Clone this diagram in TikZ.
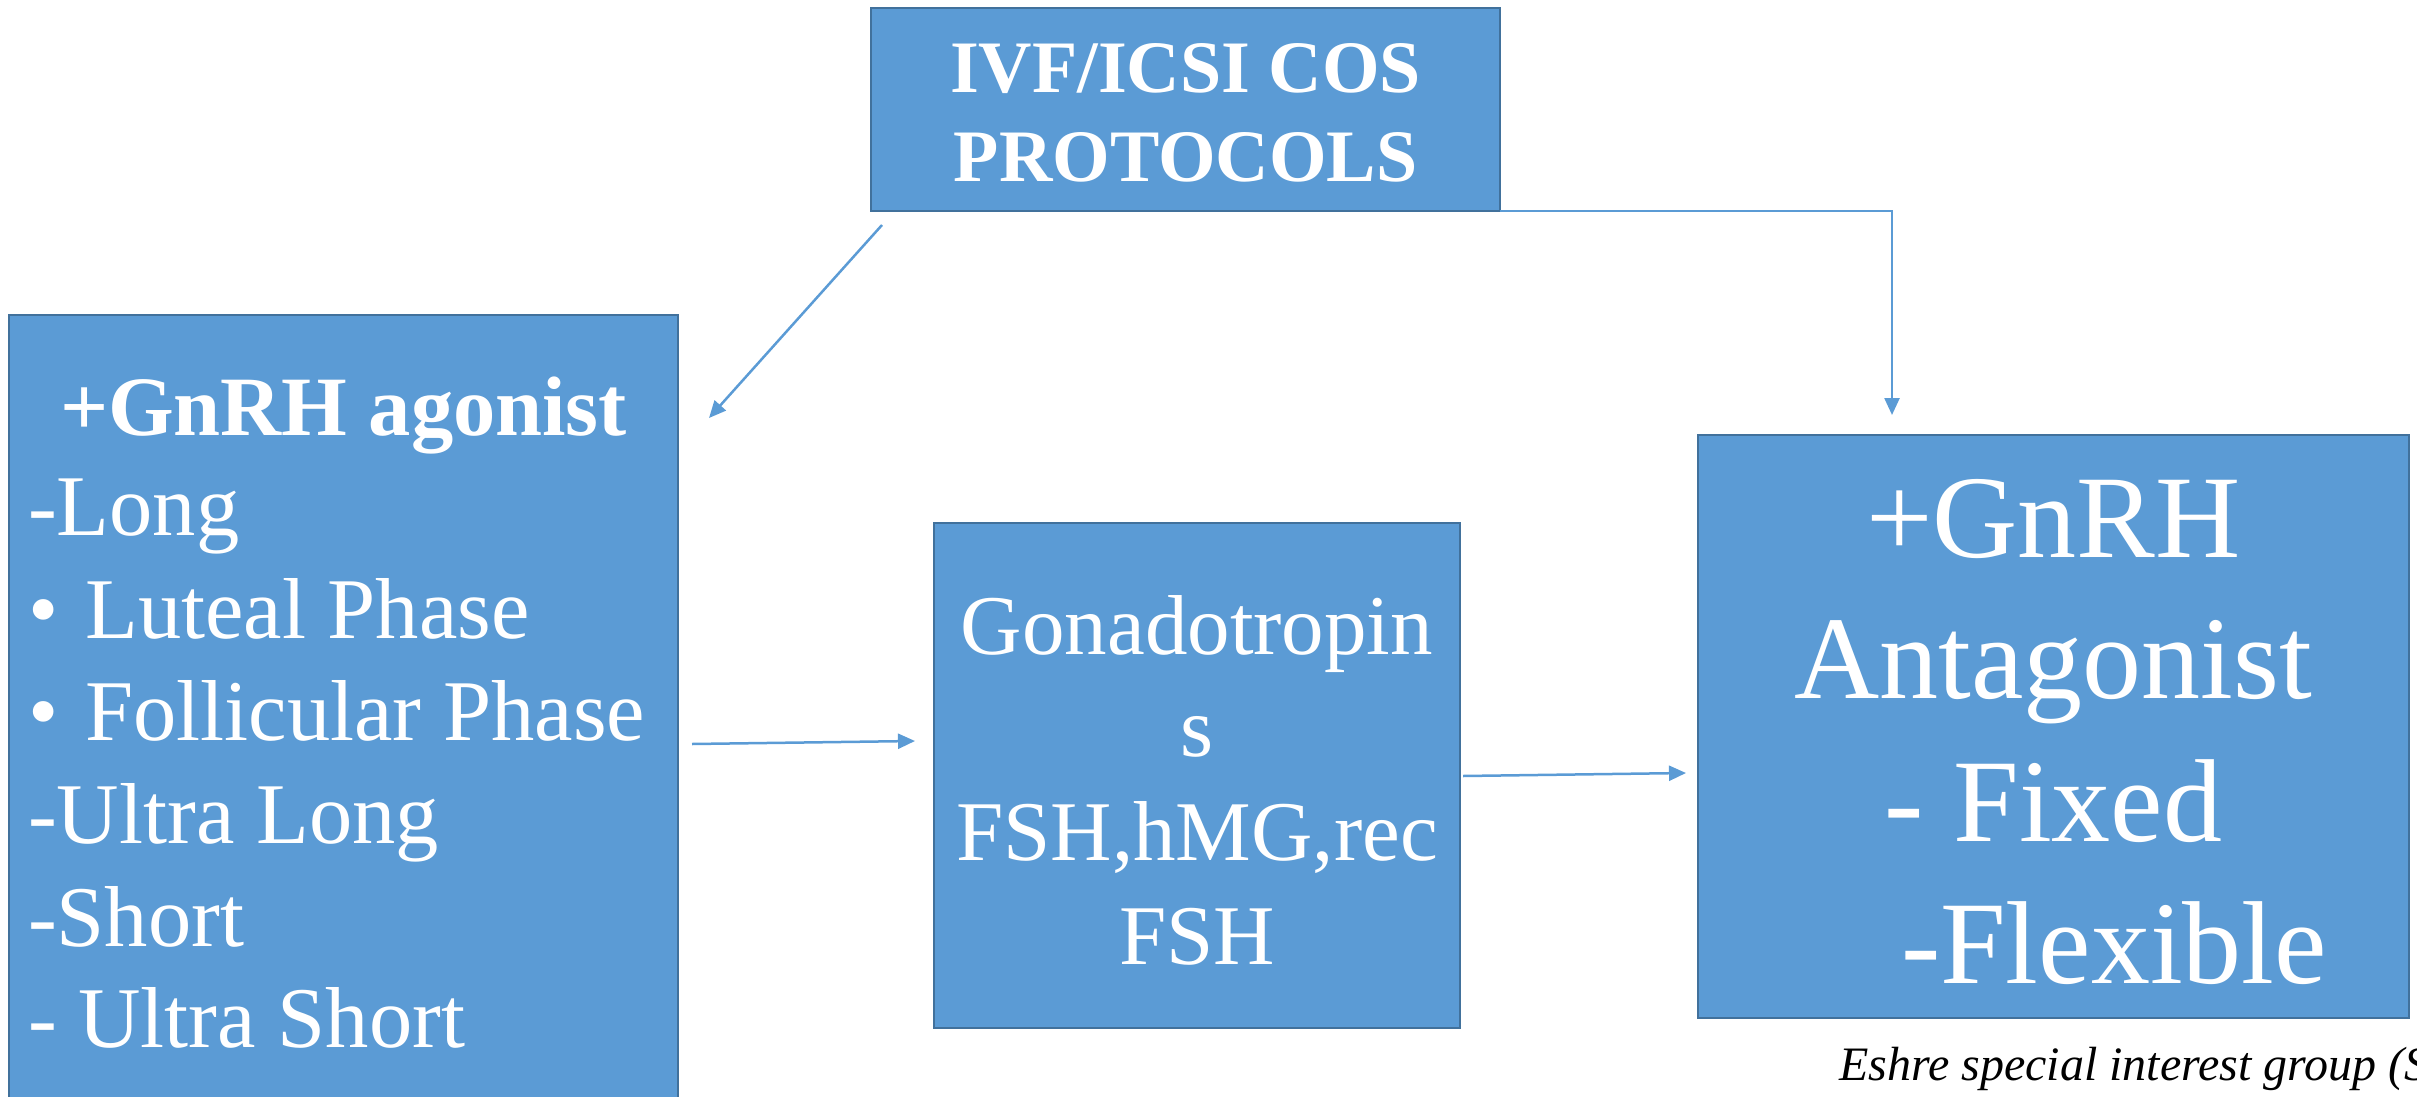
\documentclass[tikz,border=0pt]{standalone}
\usepackage{fontspec}
\setmainfont{Liberation Serif}
\usetikzlibrary{arrows.meta,calc}

\definecolor{boxfill}{HTML}{5B9BD5}
\definecolor{boxedge}{HTML}{41719C}

\tikzset{
  box/.style={draw=boxedge, line width=2.5pt, fill=boxfill, rectangle,
              inner sep=0pt, outer sep=0pt, anchor=north west},
  txt/.style={text=white, inner sep=0pt, outer sep=0pt},
  conn/.style={draw=boxfill, line width=2.5pt,
               -{Triangle[length=17pt,width=15pt]}},
  headfont/.style={font=\fontsize{74}{89}\bfseries\selectfont},
  listfont/.style={font=\fontsize{86.5}{102}\selectfont},
  listbold/.style={font=\fontsize{84.5}{102}\bfseries\selectfont},
  midfont/.style={font=\fontsize{85}{103}\selectfont},
  bigfont/.style={font=\fontsize{118}{142}\selectfont},
  citefont/.style={font=\fontsize{48}{56}\itshape\selectfont},
}

\begin{document}
\begin{tikzpicture}[x=1pt,y=-1pt]
\useasboundingbox (0,0) rectangle (2417,1097);
\clip (0,0) rectangle (2417,1097);

% boxes
\node[box, minimum width=629pt, minimum height=203pt] (top) at (871,8) {};
\node[box, minimum width=669pt, minimum height=820pt] (agon) at (9,315) {};
\node[box, minimum width=526pt, minimum height=505pt] (mid) at (934,523) {};
\node[box, minimum width=711pt, minimum height=583pt] (anta) at (1698,435) {};

% heading box text
\node[txt, headfont, anchor=base] (top1) at (1185.5,93) {IVF/ICSI COS};
\node[txt, headfont, anchor=base] (top2) at (1185.5,182) {PROTOCOLS};

% agonist list
\node[txt, listbold, anchor=base] (ag0) at (343.5,435) {+GnRH agonist};
\node[txt, listfont, anchor=base west] (ag1) at (28,535) {-Long};
\node[txt, listfont, anchor=base west] (ag2) at (28,638) {\textbullet\hspace{27pt}Luteal Phase};
\node[txt, listfont, anchor=base west] (ag3) at (28,740) {\textbullet\hspace{27pt}Follicular Phase};
\node[txt, listfont, anchor=base west] (ag4) at (28,843) {-Ultra Long};
\node[txt, listfont, anchor=base west] (ag5) at (28,946) {-Short};
\node[txt, listfont, anchor=base west] (ag6) at (28,1047) {- Ultra Short};

% gonadotropins
\node[txt, midfont, anchor=base] (md1) at (1197,654) {Gonadotropin};
\node[txt, midfont, anchor=base] (md2) at (1197,756) {s};
\node[txt, midfont, anchor=base] (md3) at (1197,860) {FSH,hMG,rec};
\node[txt, midfont, anchor=base] (md4) at (1197,964) {FSH};

% antagonist
\node[txt, bigfont, anchor=base] (an1) at (2053.5,557) {+GnRH};
\node[txt, bigfont, anchor=base] (an2) at (2053.5,698) {Antagonist};
\node[txt, bigfont, anchor=base] (an3) at (2053.5,841) {- Fixed};
\node[txt, bigfont, anchor=base] (an4) at (2114,983) {-Flexible};

% citation
\node[citefont, anchor=base west, inner sep=0pt] (cite) at (1839,1080) {Eshre special interest group (S};

% connectors
\coordinate (dgA) at ($(top.south west)+(11,14)$);
\coordinate (dgB) at ($(agon.north east)+(31,103)$);
\draw[conn] (dgA) -- (dgB);

\coordinate (elbow) at ($(anta.north west)+(194,-20)$);
\draw[conn] (top.south east) -| (elbow);

\coordinate (h1A) at ($(agon.north east)+(14,429)$);
\coordinate (h1B) at ($(mid.north west)+(-19,218)$);
\draw[conn] (h1A) -- (h1B);

\coordinate (h2A) at ($(mid.north east)+(3,253)$);
\coordinate (h2B) at ($(anta.north west)+(-12,338)$);
\draw[conn] (h2A) -- (h2B);
\end{tikzpicture}
\end{document}
